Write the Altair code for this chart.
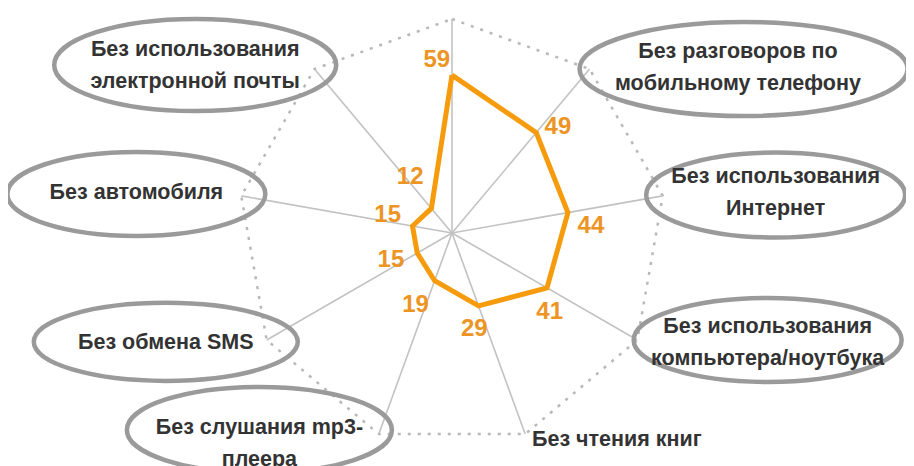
import math
import altair as alt
import pandas as pd

# ---------------- data ----------------
categories = [
    "",  # top axis (label cut off in the reference)
    "Без разговоров по\nмобильному телефону",
    "Без использования\nИнтернет",
    "Без использования\nкомпьютера/ноутбука",
    "Без чтения книг",
    "Без слушания mp3-\nплеера",
    "Без обмена SMS",
    "Без автомобиля",
    "Без использования\nэлектронной почты",
]
values = [59, 49, 44, 41, 29, 19, 15, 15, 12]
axis_max = 80

# label placement helpers (angle shift in degrees, radial pad in value units)
label_rot = [-5, 5, 7, 9, 7, 7, 6, 6, 3]
label_pad = [6, 7, 8, 6, 8, 11, 10, 10, 14]

# free-floating ellipse callouts (center x, center y in value units, width, height px)
ell_cx = [None, 109, 121, 118, None, -72, -107, -118, -96]
ell_cy = [None, 61.3, 14.2, -40.0, None, -73.6, -40.7, 14.6, 62.8]
ell_w = [None, 328, 259, 268, None, 265, 264, 258, 282]
ell_h = [None, 94, 85, 84, None, 86, 78, 84, 92]
txt_cx = [None, 106.9, 121, 118, 29.9, -72, -107, -118, -96]
txt_cy = [None, 61.7, 15.0, -41.1, -77.2, -79.0, -41.1, 15.0, 62.4]
txt_align = ["center", "center", "center", "center", "left", "center", "center", "center", "center"]

# ---------------- geometry ----------------
K = 2.675            # px per value unit
CX, CY = 452 - 8, 233 - 8   # center inside the svg
W, H = 898, 458
LH = 32              # line height of the callout texts
x_dom = [-CX / K, (W - CX) / K]
y_dom = [-(H - CY) / K, CY / K]
xs = alt.Scale(domain=x_dom, nice=False, zero=False)
ys = alt.Scale(domain=y_dom, nice=False, zero=False)

n = len(values)
ang = [2 * math.pi * i / n for i in range(n)]

spokes = pd.DataFrame({
    "x": [0.0] * n, "y": [0.0] * n,
    "x2": [axis_max * math.sin(a) for a in ang],
    "y2": [axis_max * math.cos(a) for a in ang],
})
outer = pd.DataFrame({
    "o": list(range(n + 1)),
    "x": [axis_max * math.sin(ang[i % n]) for i in range(n + 1)],
    "y": [axis_max * math.cos(ang[i % n]) for i in range(n + 1)],
})
series = pd.DataFrame({
    "o": list(range(n + 1)),
    "x": [values[i % n] * math.sin(ang[i % n]) for i in range(n + 1)],
    "y": [values[i % n] * math.cos(ang[i % n]) for i in range(n + 1)],
})
labels = pd.DataFrame({
    "v": [str(v) for v in values],
    "x": [(values[i] + label_pad[i]) * math.sin(ang[i] + math.radians(label_rot[i])) for i in range(n)],
    "y": [(values[i] + label_pad[i]) * math.cos(ang[i] + math.radians(label_rot[i])) for i in range(n)],
})

kk = 0.5523
def ellipse_path(r):
    return (f"M -1 0 C -1 {-kk*r:.4f} {-kk:.4f} {-r:.4f} 0 {-r:.4f} "
            f"C {kk:.4f} {-r:.4f} 1 {-kk*r:.4f} 1 0 "
            f"C 1 {kk*r:.4f} {kk:.4f} {r:.4f} 0 {r:.4f} "
            f"C {-kk:.4f} {r:.4f} -1 {kk*r:.4f} -1 0 Z")

ell_rows = []
for i in range(n):
    if ell_w[i] is None:
        continue
    ell_rows.append({
        "x": ell_cx[i], "y": ell_cy[i],
        "shape": ellipse_path(ell_h[i] / ell_w[i]),
        "size": ell_w[i] ** 2,
    })
ellipses = pd.DataFrame(ell_rows)

# Vega anchors the first line at y: shift multi-line blocks so they are centred
txt_rows = []
for i in range(n):
    if txt_cx[i] is None:
        continue
    lines = categories[i].count("\n") + 1
    txt_rows.append({"t": categories[i], "x": txt_cx[i],
                     "y": txt_cy[i] + (lines - 1) * LH / 2 / K, "a": txt_align[i]})
texts = pd.DataFrame(txt_rows)

# ---------------- layers ----------------
spoke_layer = alt.Chart(spokes).mark_rule(color="#C2C2C2", strokeWidth=1.6).encode(
    x=alt.X("x:Q", scale=xs, axis=None), y=alt.Y("y:Q", scale=ys, axis=None),
    x2="x2:Q", y2="y2:Q")

outer_layer = alt.Chart(outer).mark_line(
    color="#B8B8B8", strokeWidth=2.5, strokeDash=[3, 7]).encode(
    x=alt.X("x:Q", scale=xs, axis=None), y=alt.Y("y:Q", scale=ys, axis=None),
    order="o:Q")

series_layer = alt.Chart(series).mark_line(
    color="#F59B0C", strokeWidth=5, strokeJoin="miter").encode(
    x=alt.X("x:Q", scale=xs, axis=None), y=alt.Y("y:Q", scale=ys, axis=None),
    order="o:Q")

value_layer = alt.Chart(labels).mark_text(
    font="Liberation Sans", fontSize=24, fontWeight="bold", color="#EC9424",
    align="center", baseline="middle").encode(
    x=alt.X("x:Q", scale=xs, axis=None), y=alt.Y("y:Q", scale=ys, axis=None),
    text="v:N")

ellipse_layer = alt.Chart(ellipses).mark_point(
    filled=False, color="#9A9A9A", strokeWidth=4.5, opacity=1).encode(
    x=alt.X("x:Q", scale=xs, axis=None), y=alt.Y("y:Q", scale=ys, axis=None),
    shape=alt.Shape("shape:N", scale=None),
    size=alt.Size("size:Q", scale=None))

center_text = alt.Chart(texts).transform_filter(alt.datum.a == "center").mark_text(
    font="Liberation Sans", fontSize=21.5, fontWeight="bold", color="#333333",
    align="center", baseline="middle", lineBreak="\n", lineHeight=LH).encode(
    x=alt.X("x:Q", scale=xs, axis=None), y=alt.Y("y:Q", scale=ys, axis=None),
    text="t:N")

left_text = alt.Chart(texts).transform_filter(alt.datum.a == "left").mark_text(
    font="Liberation Sans", fontSize=21.5, fontWeight="bold", color="#333333",
    align="left", baseline="middle", lineBreak="\n", lineHeight=LH).encode(
    x=alt.X("x:Q", scale=xs, axis=None), y=alt.Y("y:Q", scale=ys, axis=None),
    text="t:N")

chart = alt.layer(
    outer_layer, spoke_layer, series_layer, value_layer,
    ellipse_layer, center_text, left_text
).properties(
    width=W, height=H, padding=0, autosize=alt.AutoSizeParams(type="none"),
    background="white"
).configure_view(stroke=None)

chart.save("out.html", embed_options={"renderer": "svg", "actions": False})
